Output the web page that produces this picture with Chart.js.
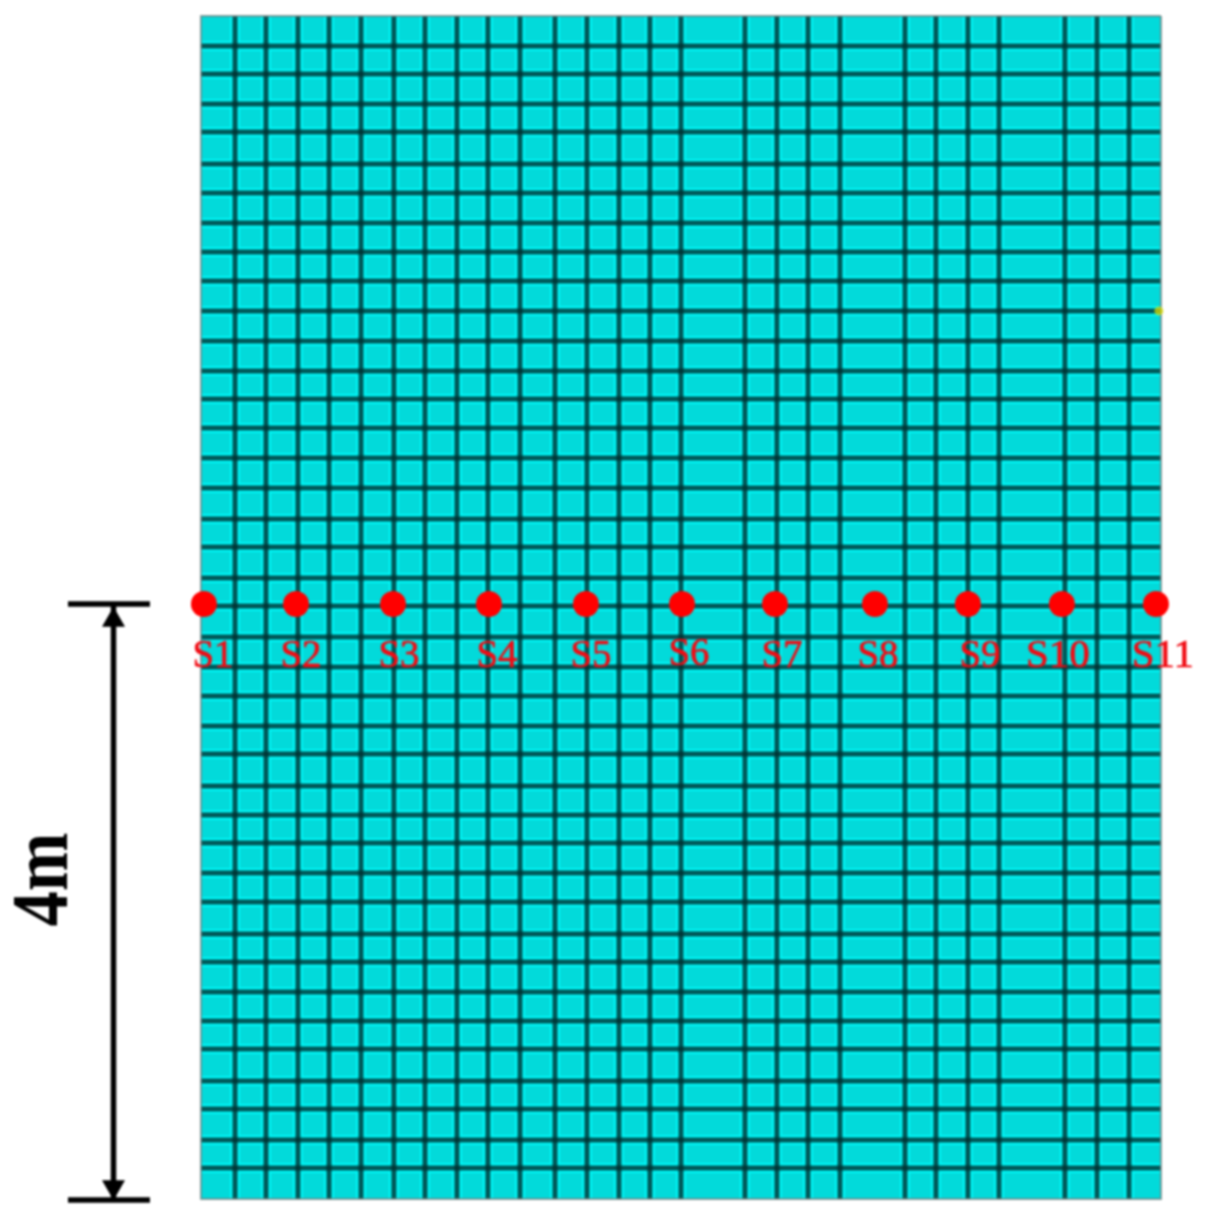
<!DOCTYPE html>
<html>
<head>
<meta charset="utf-8">
<title>Sensor layout</title>
<script src="https://cdn.jsdelivr.net/npm/chart.js@4/dist/chart.umd.min.js"></script>
<style>
    html, body { margin: 0; padding: 0; background: #ffffff; }
    canvas { display: block; filter: blur(1px); }
</style>
</head>
<body>
<canvas id="meshChart" width="1212" height="1224"></canvas>
<script>
// all values in metres, measured from the bottom left corner of the mesh
const meshColumns = [0, 0.229, 0.437, 0.652, 0.861, 1.076, 1.297, 1.506, 1.721, 1.929, 2.145, 2.380, 2.595, 2.810,
    3.018, 3.227, 3.657, 3.872, 4.081, 4.296, 4.733, 4.941, 5.156, 5.365, 5.808, 6.024, 6.239, 6.454];
const meshRows = [0, 0.208, 0.397, 0.605, 0.793, 1.008, 1.197, 1.392, 1.593, 1.782, 1.997, 2.192, 2.393, 2.582,
    2.776, 2.992, 3.180, 3.382, 3.576, 3.778, 3.987, 4.175, 4.383, 4.571, 4.780, 4.982, 5.183, 5.378, 5.566, 5.768,
    5.970, 6.171, 6.366, 6.561, 6.763, 6.958, 7.173, 7.361, 7.563, 7.751, 7.953];
const sensorNames = ['S1', 'S2', 'S3', 'S4', 'S5', 'S6', 'S7', 'S8', 'S9', 'S10', 'S11'];
const sensorX = [0.020, 0.639, 1.291, 1.936, 2.588, 3.234, 3.859, 4.531, 5.156, 5.788, 6.420];
const sensorY = 4.0;
const dimensionX = -0.588;
const dimensionBarX = [-0.894, -0.343];
const dimensionLabel = '4m';
const yellowNode = { x: 6.44, y: 5.97 };

const meshLeft = meshColumns[0];
const meshRight = meshColumns[meshColumns.length - 1];
const meshBottom = meshRows[0];
const meshTop = meshRows[meshRows.length - 1];

// one polyline per direction, broken up with null points
const rowLines = meshRows.slice(1, -1).flatMap(y => [{ x: meshLeft, y }, { x: meshRight, y }, { x: null, y: null }]);
const columnLines = meshColumns.slice(1, -1).flatMap(x => [{ x, y: meshBottom }, { x, y: meshTop }, { x: null, y: null }]);

const lineColor = 'rgba(0, 48, 48, 0.8)';
const haloColor = '#00f5f5';

function lineSet(data, color, width) {
    return { data, showLine: true, borderColor: color, borderWidth: width, pointRadius: 0, fill: false };
}

// pixel nudges of the sensor names relative to their dots
const nameShift = [9, 5, 6, 8, 5, 7, 7, 3, 12, -4, 7];
const nameRise = [0, 0, 0, 0, 0, 2, 0, 0, 0, 0, 0];

const textPlugin = {
    id: 'textPlugin',
    afterDatasetsDraw(chart) {
        const { ctx, scales } = chart;
        ctx.save();
        ctx.fillStyle = '#f00c14';
        ctx.strokeStyle = '#f00c14';
        ctx.lineWidth = 0.7;
        ctx.font = '41px "Liberation Serif"';
        ctx.textAlign = 'center';
        ctx.textBaseline = 'alphabetic';
        sensorNames.forEach((name, i) => {
            const px = scales.x.getPixelForValue(sensorX[i]) + nameShift[i];
            const py = scales.y.getPixelForValue(sensorY) + 63 - nameRise[i];
            ctx.fillText(name, px, py, name.length > 2 ? 64 : 41);
            ctx.strokeText(name, px, py, name.length > 2 ? 64 : 41);
        });
        ctx.restore();

        // rotated dimension label
        ctx.save();
        ctx.translate(67, scales.y.getPixelForValue(sensorY / 2) - 22);
        ctx.rotate(-Math.PI / 2);
        ctx.fillStyle = '#000000';
        ctx.font = 'bold 80px "Liberation Serif"';
        ctx.textAlign = 'center';
        ctx.textBaseline = 'alphabetic';
        ctx.fillText(dimensionLabel, 0, 0, 94);
        ctx.restore();
    }
};

new Chart(document.getElementById('meshChart'), {
    type: 'scatter',
    data: {
        datasets: [
            // first dataset ends up on top
            {
                data: sensorX.map(x => ({ x, y: sensorY })),
                pointRadius: 13,
                pointBackgroundColor: '#ff0000',
                pointBorderWidth: 0
            },
            {
                data: [yellowNode],
                pointRadius: 4.5,
                pointBackgroundColor: 'rgba(215, 215, 0, 0.75)',
                pointBorderWidth: 0
            },
            {
                data: [{ x: dimensionX, y: 3.892 }, { x: dimensionX, y: 0.081 }],
                pointStyle: 'triangle',
                pointRadius: 13.3,
                rotation: [0, 180],
                pointBackgroundColor: '#000000',
                pointBorderWidth: 0
            },
            lineSet([{ x: dimensionX, y: sensorY }, { x: dimensionX, y: meshBottom }], '#000000', 5.5),
            lineSet([{ x: dimensionBarX[0], y: sensorY }, { x: dimensionBarX[1], y: sensorY }], '#000000', 5.5),
            lineSet([{ x: dimensionBarX[0], y: -0.007 }, { x: dimensionBarX[1], y: -0.007 }], '#000000', 5.5),
            lineSet([
                { x: meshRight, y: meshTop }, { x: meshLeft, y: meshTop }, { x: meshLeft, y: meshBottom },
                { x: meshRight, y: meshBottom }, { x: meshRight, y: meshTop }
            ], 'rgba(110, 130, 130, 0.75)', 2),
            lineSet(rowLines, lineColor, 5),
            lineSet(columnLines, lineColor, 5),
            lineSet(rowLines, haloColor, 10),
            lineSet(columnLines, haloColor, 10),
            {
                data: [{ x: meshLeft, y: meshTop }, { x: meshRight, y: meshTop }],
                showLine: true,
                borderWidth: 0,
                pointRadius: 0,
                fill: { value: meshBottom },
                backgroundColor: '#02dada'
            }
        ]
    },
    options: {
        responsive: false,
        animation: false,
        devicePixelRatio: 1,
        layout: { padding: 0, autoPadding: false },
        plugins: {
            legend: { display: false },
            tooltip: { enabled: false },
            title: { display: false }
        },
        scales: {
            x: { type: 'linear', display: false, min: -1.351, max: 6.797 },
            y: { type: 'linear', display: false, min: -0.168, max: 8.06 }
        }
    },
    plugins: [textPlugin]
});
</script>
</body>
</html>
